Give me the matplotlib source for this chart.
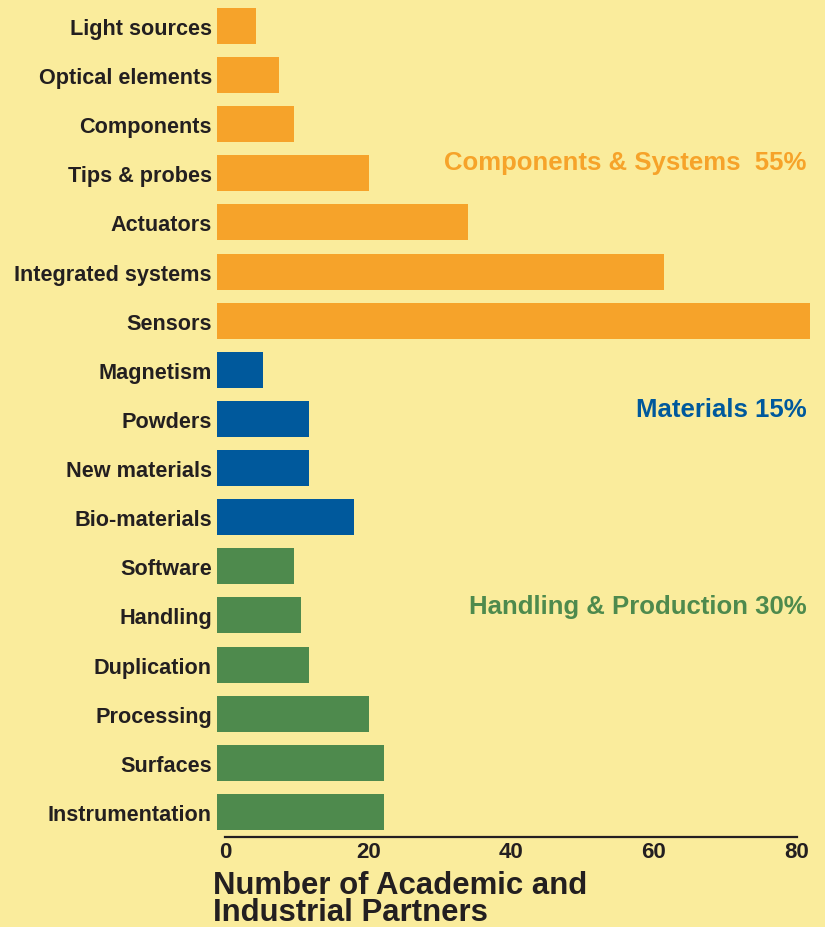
import matplotlib
matplotlib.use("Agg")
import matplotlib.pyplot as plt

categories = ["Light sources", "Optical elements", "Components", "Tips & probes",
              "Actuators", "Integrated systems", "Sensors",
              "Magnetism", "Powders", "New materials", "Bio-materials",
              "Software", "Handling", "Duplication", "Processing", "Surfaces",
              "Instrumentation"]
values = [4.3, 7.5, 9.6, 20.1, 34.0, 61.4, 81.8,
          5.3, 11.7, 11.7, 18.0,
          9.6, 10.6, 11.7, 20.1, 22.2, 22.2]
groups = ["cs"] * 7 + ["mat"] * 4 + ["hp"] * 6
group_colors = {"cs": "#F6A32A", "mat": "#00599C", "hp": "#4E8A4D"}
group_labels = [("Components & Systems  55%", "cs", 2.77),
                ("Materials 15%", "mat", 7.80),
                ("Handling & Production 30%", "hp", 11.81)]
xticks = [0, 20, 40, 60, 80]
xlabel = "Number of Academic and\nIndustrial Partners"

BG = "#FAEC9C"
TXT = "#231F20"
BASE = -1.15

plt.rcParams["font.family"] = ["Liberation Sans", "DejaVu Sans"]
plt.rcParams["font.weight"] = "bold"

fig = plt.figure(figsize=(8.25, 9.28), dpi=100, facecolor=BG)
ax = fig.add_axes([217 / 825, (928 - 837.5) / 928, 608 / 825, 837.5 / 928])
ax.set_facecolor(BG)

ypos = list(range(len(categories)))
ax.barh(ypos, [v - BASE for v in values], left=BASE, height=0.733,
        color=[group_colors[g] for g in groups], edgecolor="none")

ax.set_ylim(16.5, -0.55)
ax.set_xlim(-1.19, 83.96)
ax.set_yticks(ypos)
ax.set_yticklabels(categories, fontsize=15.6, fontweight="bold", color=TXT)
ax.set_xticks(xticks)
ax.set_xticklabels([str(t) for t in xticks], fontsize=16, fontweight="bold", color=TXT)
ax.tick_params(axis="y", length=0, pad=3.6)
ax.tick_params(axis="x", length=0, pad=3)

for s in ["top", "right", "left"]:
    ax.spines[s].set_visible(False)
ax.spines["bottom"].set_bounds(0, 80)
ax.spines["bottom"].set_linewidth(1.6)
ax.spines["bottom"].set_color(TXT)

for text, g, y in group_labels:
    ax.text(81.4, y, text, ha="right", va="center", fontsize=18.5,
            fontweight="bold", color=group_colors[g])

fig.text(213 / 825, 1 - 871 / 928, xlabel, ha="left", va="top", fontsize=22.4,
         fontweight="bold", color=TXT, linespacing=0.86)

fig.savefig("out.png", dpi=100, facecolor=BG)
